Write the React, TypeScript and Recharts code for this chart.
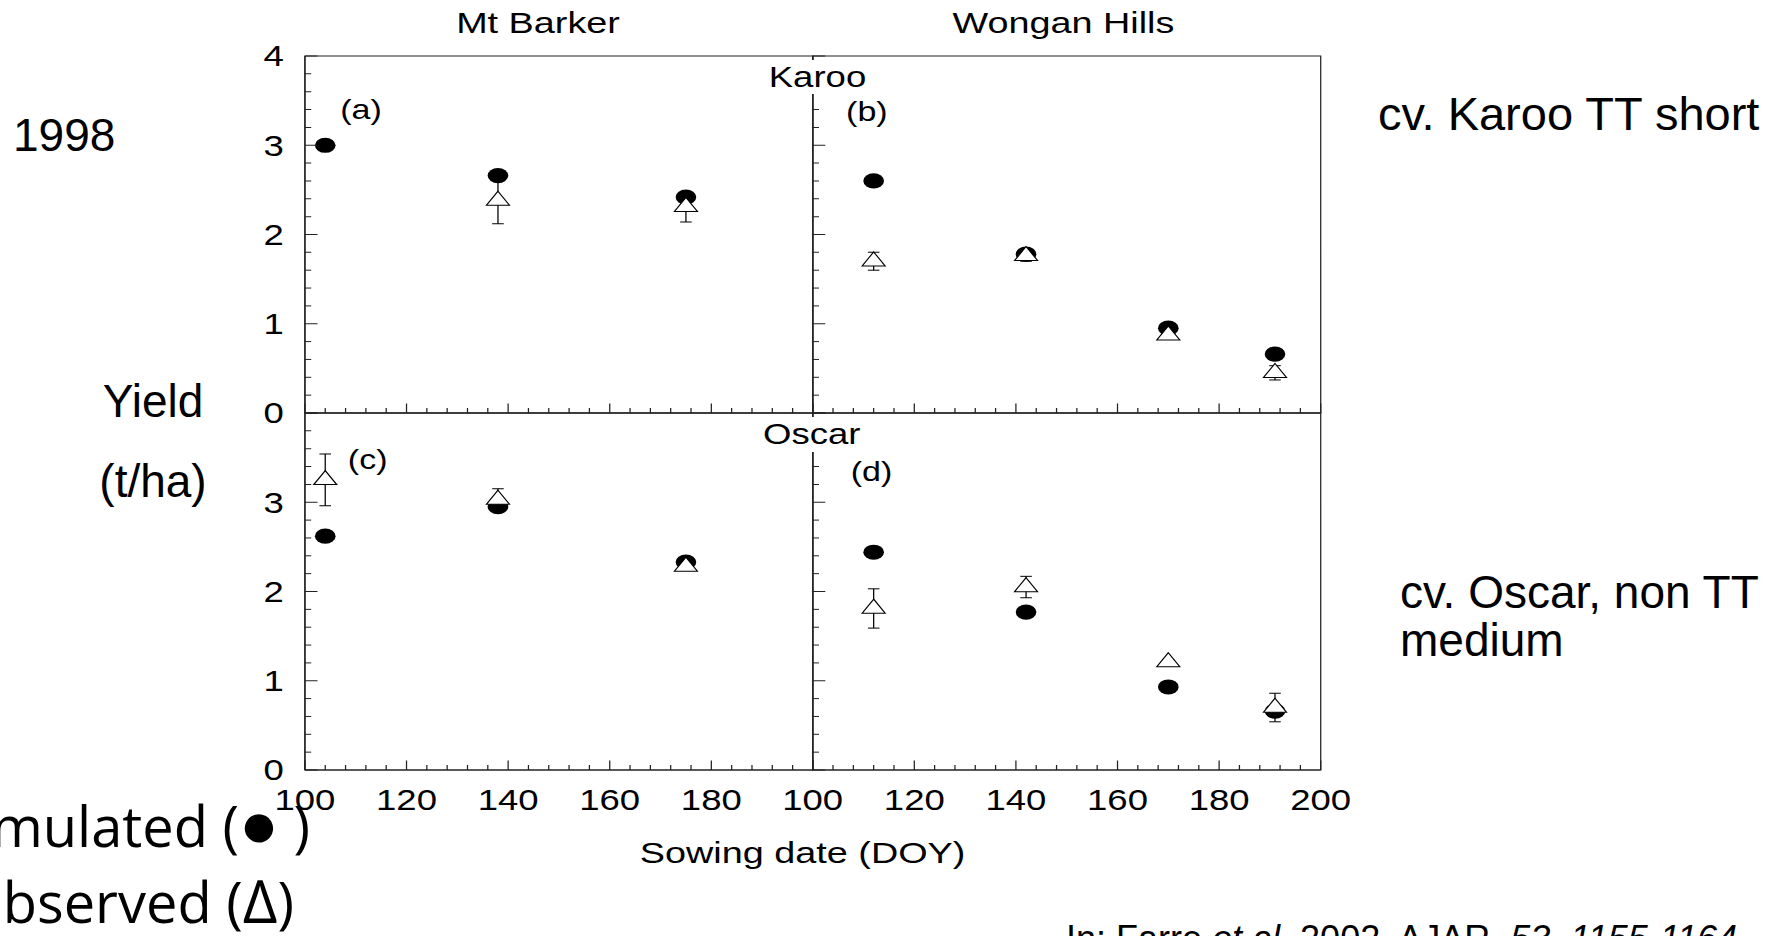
import React from 'react';
import { ScatterChart, Scatter, XAxis, YAxis, ErrorBar, ReferenceArea } from 'recharts';

// Sowing dates (day of year) for each site
const mtBarkerDoy = [104, 138, 175];
const wonganDoy = [112, 142, 170, 191];

// Yield (t/ha): simulated, observed and observed standard error
const karooMtBarkerSim = [3.0, 2.66, 2.42];
const karooMtBarkerObs = [null, 2.38, 2.31];
const karooMtBarkerSe = [null, 0.26, 0.17];

const karooWonganSim = [2.6, 1.78, 0.95, 0.66];
const karooWonganObs = [1.7, 1.76, 0.87, 0.45];
const karooWonganSe = [0.1, 0.06, 0.03, 0.08];

const oscarMtBarkerSim = [2.62, 2.95, 2.33];
const oscarMtBarkerObs = [3.25, 3.03, 2.28];
const oscarMtBarkerSe = [0.29, 0.12, 0.03];

const oscarWonganSim = [2.44, 1.77, 0.93, 0.66];
const oscarWonganObs = [1.81, 2.05, 1.21, 0.7];
const oscarWonganSe = [0.22, 0.12, 0.03, 0.16];

// Tick labels
const xLabelsLeft = [100, 120, 140, 160, 180];
const xLabelsRight = [100, 120, 140, 160, 180, 200];
const yLabelsTop = [0, 1, 2, 3, 4];
const yLabelsBottom = [0, 1, 2, 3];

// minor ticks every 4 days / 0.2 t/ha
const xTicks = Array.from({ length: 26 }, (_, i) => 100 + 4 * i);
const yTicks = Array.from({ length: 21 }, (_, i) => i / 5);

const FONT = "'Liberation Sans', Arial, sans-serif";
const S = 1.26; // the figure is stretched sideways
const MT = 30;
const MR = 40;
const MB = 6;
const ML = 6;
const YW = 60;
const XH = 60;
const PW = 403.2;
const PH = 357;
const COL = [241.7, 644.9];
const ROW = [56, 413.3];

const sim = (doy: number[], ys: number[]) => doy.map((x, i) => ({ x, y: ys[i] }));
const obs = (doy: number[], ys: (number | null)[], se: (number | null)[]) =>
  doy
    .map((x, i) => ({ x, y: ys[i], err: se[i] }))
    .filter((d) => d.y !== null);

const isMajor = (v: number, step: number) => Math.abs(v / step - Math.round(v / step)) < 1e-6;

const XTick = ({ x, y, payload, labels }: any) => {
  const v = payload.value;
  const major = isMajor(v, 20);
  return (
    <g>
      <line x1={x} y1={y} x2={x} y2={y - (major ? 9.5 : 5)} stroke="#222" strokeWidth={1} />
      {labels.includes(v) && (
        <text x={x} y={y + 40.5} textAnchor="middle" fontFamily={FONT} fontSize={29} fill="#000">
          {v}
        </text>
      )}
    </g>
  );
};

const YTick = ({ x, y, payload, labels }: any) => {
  const v = payload.value;
  const major = isMajor(v, 1);
  return (
    <g>
      <line x1={x} y1={y} x2={x + (major ? 10 : 5)} y2={y} stroke="#222" strokeWidth={1} />
      {major && labels.includes(Math.round(v)) && (
        <text x={x - 16.7} y={y} dy="0.36em" textAnchor="end" fontFamily={FONT} fontSize={29} fill="#000">
          {Math.round(v)}
        </text>
      )}
    </g>
  );
};

const Dot = (p: any) => <ellipse cx={p.cx} cy={p.cy} rx={8.2} ry={7.6} fill="#000" />;

const Triangle = (p: any) => (
  <path
    d={`M${p.cx},${p.cy - 9.33} L${p.cx + 9.15},${p.cy + 4.67} L${p.cx - 9.15},${p.cy + 4.67} Z`}
    fill="#fff"
    stroke="#000"
    strokeWidth={1}
  />
);

const Panel = ({ col, row, simData, obsData, xLabels, yLabels }: any) => (
  <div style={{ position: 'absolute', left: COL[col] - YW - ML, top: ROW[row] - MT }}>
    <ScatterChart
      width={YW + PW + ML + MR}
      height={PH + XH + MT + MB}
      margin={{ top: MT, right: MR, bottom: MB, left: ML }}
    >
      <XAxis
        type="number"
        dataKey="x"
        domain={[100, 200]}
        ticks={xTicks}
        interval={0}
        height={XH}
        tickSize={0}
        tickMargin={0}
        tickLine={false}
        axisLine={{ stroke: '#222' }}
        tick={(p: any) => <XTick {...p} labels={xLabels} />}
      />
      <YAxis
        type="number"
        dataKey="y"
        domain={[0, 4]}
        ticks={yTicks}
        interval={0}
        width={YW}
        tickSize={0}
        tickMargin={0}
        tickLine={false}
        axisLine={{ stroke: '#222' }}
        tick={(p: any) => <YTick {...p} labels={yLabels} />}
      />
      <ReferenceArea x1={100} x2={200} y1={0} y2={4} fill="none" stroke="#222" strokeWidth={1} />
      <Scatter data={simData} shape={Dot} isAnimationActive={false} />
      <Scatter data={obsData} shape={Triangle} isAnimationActive={false}>
        <ErrorBar dataKey="err" direction="y" width={4.6} stroke="#000" strokeWidth={1} />
      </Scatter>
    </ScatterChart>
  </div>
);

const App = () => (
  <div
    style={{
      position: 'absolute',
      left: 0,
      top: 0,
      width: 1777,
      height: 936,
      overflow: 'hidden',
      background: '#fff',
    }}
  >
    <div
      style={{
        position: 'absolute',
        left: 0,
        top: 0,
        width: 1777 / S,
        height: 936,
        transform: `scaleX(${S})`,
        transformOrigin: '0 0',
      }}
    >
      <Panel col={0} row={0} simData={sim(mtBarkerDoy, karooMtBarkerSim)}
        obsData={obs(mtBarkerDoy, karooMtBarkerObs, karooMtBarkerSe)} xLabels={[]} yLabels={yLabelsTop} />
      <Panel col={1} row={0} simData={sim(wonganDoy, karooWonganSim)}
        obsData={obs(wonganDoy, karooWonganObs, karooWonganSe)} xLabels={[]} yLabels={[]} />
      <Panel col={0} row={1} simData={sim(mtBarkerDoy, oscarMtBarkerSim)}
        obsData={obs(mtBarkerDoy, oscarMtBarkerObs, oscarMtBarkerSe)} xLabels={xLabelsLeft} yLabels={yLabelsBottom} />
      <Panel col={1} row={1} simData={sim(wonganDoy, oscarWonganSim)}
        obsData={obs(wonganDoy, oscarWonganObs, oscarWonganSe)} xLabels={xLabelsRight} yLabels={[]} />

      <svg
        width={1777 / S}
        height={936}
        style={{ position: 'absolute', left: 0, top: 0, pointerEvents: 'none' }}
        fontFamily={FONT}
      >
        <text x={427} y={33} textAnchor="middle" fontSize={30}>Mt Barker</text>
        <text x={844} y={33} textAnchor="middle" fontSize={30}>Wongan Hills</text>

        <rect x={608} y={60} width={82} height={34} fill="#fff" />
        <text x={648.8} y={86.7} textAnchor="middle" fontSize={29}>Karoo</text>
        <rect x={604} y={417} width={82} height={35} fill="#fff" />
        <text x={644.2} y={444.3} textAnchor="middle" fontSize={29}>Oscar</text>

        <text x={286.5} y={119} textAnchor="middle" fontSize={27}>(a)</text>
        <text x={688} y={121} textAnchor="middle" fontSize={27}>(b)</text>
        <text x={291.8} y={469} textAnchor="middle" fontSize={27}>(c)</text>
        <text x={691.7} y={481} textAnchor="middle" fontSize={27}>(d)</text>

        <text x={637} y={863} textAnchor="middle" fontSize={30}>Sowing date (DOY)</text>
      </svg>
    </div>

    <svg width={1777} height={936} style={{ position: 'absolute', left: 0, top: 0 }} fontFamily={FONT}>
      <text x={13} y={151} fontSize={46}>1998</text>
      <text x={153} y={417} textAnchor="middle" fontSize={46}>Yield</text>
      <text x={153} y={497} textAnchor="middle" fontSize={46}>(t/ha)</text>

      <text x={1378} y={130} fontSize={47}>cv. Karoo TT short</text>
      <text x={1400} y={608} fontSize={46}>cv. Oscar, non TT</text>
      <text x={1400} y={656} fontSize={46}>medium</text>

      <g fontFamily="'Open Sans', 'Noto Sans', sans-serif" fontSize={56}>
        <text x={310} y={847} textAnchor="end">
          Simulated (<tspan fontSize={66}>●</tspan> )
        </text>
        <text x={294} y={923} textAnchor="end">
          Observed (<tspan fontSize={60}>∆</tspan>)
        </text>
      </g>

      <text x={1066} y={951} fontSize={36}>
        In: Farre <tspan fontStyle="italic">et al.</tspan> 2002, AJAR, <tspan fontStyle="italic">53, 1155-1164</tspan>
      </text>
    </svg>
  </div>
);

export default App;
